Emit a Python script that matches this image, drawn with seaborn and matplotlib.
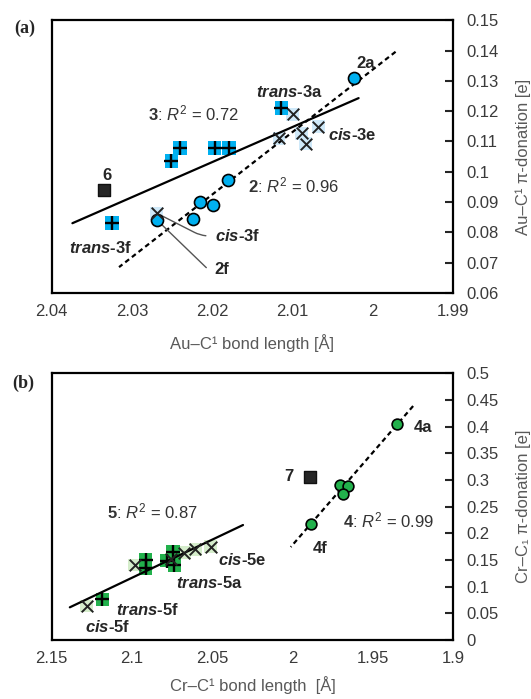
import numpy as np
import seaborn as sns
from matplotlib import pyplot as plt
from matplotlib.ticker import FuncFormatter

sns.set_style("white")
plt.rcParams['font.family'] = ['Liberation Sans', 'DejaVu Sans']
plt.rcParams['mathtext.fontset'] = 'custom'
plt.rcParams['mathtext.rm'] = 'Liberation Sans'
plt.rcParams['mathtext.it'] = 'Liberation Sans:italic'
plt.rcParams['mathtext.bf'] = 'Liberation Sans:bold'
plt.rcParams['mathtext.bfit'] = 'Liberation Sans:bold:italic'

# (a) Au complexes ---------------------------------------------------------
au_circ_x = [2.0024, 2.0181, 2.0215, 2.0199, 2.0224, 2.0269]
au_circ_y = [0.131, 0.0973, 0.0901, 0.0890, 0.0843, 0.0841]
au_plus_x = [2.0114, 2.0240, 2.0251, 2.0197, 2.0179, 2.0325]
au_plus_y = [0.1210, 0.1078, 0.1035, 0.1078, 0.1078, 0.0830]
au_cross_x = [2.0100, 2.0117, 2.0089, 2.0084, 2.0068, 2.0269]
au_cross_y = [0.1190, 0.1111, 0.1127, 0.1092, 0.1149, 0.0863]
au_sq_x = [2.0335]
au_sq_y = [0.094]
au_fit2_x = [2.0316, 1.9972]
au_fit2_y = [0.0685, 0.1396]
au_fit3_x = [2.0374, 2.0018]
au_fit3_y = [0.0830, 0.1243]
au_xticks = [2.04, 2.03, 2.02, 2.01, 2.00, 1.99]
au_yticks = [0.06, 0.07, 0.08, 0.09, 0.10, 0.11, 0.12, 0.13, 0.14, 0.15]

# (b) Cr complexes ---------------------------------------------------------
cr_circ_x = [1.9354, 1.9704, 1.9657, 1.9688, 1.9884]
cr_circ_y = [0.405, 0.2906, 0.2887, 0.2731, 0.2169]
cr_plus_x = [2.1183, 2.0915, 2.0915, 2.0746, 2.0736, 2.0783]
cr_plus_y = [0.0763, 0.150, 0.1344, 0.1655, 0.1406, 0.1487]
cr_cross_x = [2.1282, 2.0983, 2.0756, 2.0674, 2.0606, 2.0509]
cr_cross_y = [0.0637, 0.1406, 0.1513, 0.1637, 0.170, 0.175]
cr_sq_x = [1.989]
cr_sq_y = [0.305]
cr_fit4_x = [2.0012, 1.9251]
cr_fit4_y = [0.1744, 0.4387]
cr_fit5_x = [2.1386, 2.0309]
cr_fit5_y = [0.0613, 0.2156]
cr_xticks = [2.15, 2.10, 2.05, 2.00, 1.95, 1.90]
cr_yticks = [0, 0.05, 0.1, 0.15, 0.2, 0.25, 0.3, 0.35, 0.4, 0.45, 0.5]

blue = '#00B0F0'
blue_bg = '#CFE9F9'
green = '#22B14C'
green_bg = '#D5EDCB'
fs = 12
dashed = (0, (2.2, 1.6))

fig = plt.figure(figsize=(5.31, 6.99), dpi=100)
ax1 = fig.add_axes([0.097, 0.581, 0.757, 0.390])
ax2 = fig.add_axes([0.097, 0.0844, 0.757, 0.3815])


def style_axis(ax, xt, yt, xlim, ylim):
    ax.set_xlim(*xlim)
    ax.set_ylim(*ylim)
    ax.set_xticks(xt)
    ax.set_yticks(yt)
    fmt = FuncFormatter(lambda v, p: '{:g}'.format(round(v, 3)))
    ax.xaxis.set_major_formatter(fmt)
    ax.yaxis.set_major_formatter(fmt)
    ax.yaxis.tick_right()
    ax.yaxis.set_label_position('right')
    ax.tick_params(axis='both', direction='in', length=6, width=1.5,
                   labelsize=fs, labelcolor='#3a3a3a')
    ax.tick_params(axis='y', pad=9)
    ax.tick_params(axis='x', pad=8)
    for s in ax.spines.values():
        s.set_linewidth(1.6)
        s.set_color('black')


def draw_set(ax, cx, cy, px, py, xx, xy, sx, sy, col, bg, csize):
    sns.scatterplot(x=xx, y=xy, marker='s', s=85, color=bg, edgecolor='none', ax=ax, zorder=2)
    sns.scatterplot(x=px, y=py, marker='s', s=95, color=col, edgecolor='none', ax=ax, zorder=2)
    sns.scatterplot(x=px, y=py, marker='+', s=100, color='black', linewidth=1.7, ax=ax, zorder=5)
    sns.scatterplot(x=xx, y=xy, marker='x', s=70, color='#222222', linewidth=1.4, ax=ax, zorder=5)
    sns.scatterplot(x=cx, y=cy, marker='o', s=csize, color=col, edgecolor='black', linewidth=1.2, ax=ax, zorder=4)
    sns.scatterplot(x=sx, y=sy, marker='s', s=85, color='#262626', edgecolor='#111111', linewidth=1, ax=ax, zorder=4)


# panel (a)
style_axis(ax1, au_xticks, au_yticks, (2.04, 1.99), (0.06, 0.15))
sns.lineplot(x=au_fit2_x, y=au_fit2_y, ax=ax1, color='black', linestyle=dashed, lw=1.6, zorder=3)
sns.lineplot(x=au_fit3_x, y=au_fit3_y, ax=ax1, color='black', lw=1.6, zorder=3)
draw_set(ax1, au_circ_x, au_circ_y, au_plus_x, au_plus_y, au_cross_x, au_cross_y,
         au_sq_x, au_sq_y, blue, blue_bg, 75)

ax1.text(2.0009, 0.1356, '2a', fontsize=fs, fontweight='bold', ha='center', va='center')
ax1.text(2.0104, 0.1264, r'$\mathbfit{trans}$-3a', fontsize=fs, fontweight='bold', ha='center', va='center')
ax1.text(2.0026, 0.1121, r'$\mathbfit{cis}$-3e', fontsize=fs, fontweight='bold', ha='center', va='center')
ax1.text(2.0223, 0.1193, r'$\mathbf{3}$: $R^2$ = 0.72', fontsize=fs, color='#333333', ha='center', va='center')
ax1.text(2.0331, 0.0989, '6', fontsize=fs, fontweight='bold', ha='center', va='center')
ax1.text(2.0099, 0.0956, r'$\mathbf{2}$: $R^2$ = 0.96', fontsize=fs, color='#333333', ha='center', va='center')
ax1.text(2.0339, 0.0748, r'$\mathbfit{trans}$-3f', fontsize=fs, fontweight='bold', ha='center', va='center')
ax1.annotate(r'$\mathbfit{cis}$-3f', xy=(au_cross_x[5], au_cross_y[5]), xytext=(2.0197, 0.0788),
             fontsize=fs, fontweight='bold', ha='left', va='center',
             arrowprops=dict(arrowstyle='-', color='#555555', lw=1, relpos=(0, 0.5),
                             shrinkA=4, shrinkB=3,
                             connectionstyle='angle,angleA=0,angleB=-27,rad=8'))
ax1.annotate('2f', xy=(au_circ_x[5], au_circ_y[5]), xytext=(2.0197, 0.0676),
             fontsize=fs, fontweight='bold', ha='left', va='center',
             arrowprops=dict(arrowstyle='-', color='#555555', lw=1, relpos=(0, 0.5),
                             shrinkA=4, shrinkB=3,
                             connectionstyle='angle,angleA=0,angleB=-44,rad=4'))
ax1.set_xlabel('Au–C¹ bond length [Å]', fontsize=fs, color='#595959')
ax1.set_ylabel('Au–C¹ π-donation [e]', fontsize=fs, color='#595959')
ax1.xaxis.set_label_coords(0.5, -0.15)
ax1.yaxis.set_label_coords(1.155, 0.5)

# panel (b)
style_axis(ax2, cr_xticks, cr_yticks, (2.15, 1.90), (0, 0.5))
sns.lineplot(x=cr_fit4_x, y=cr_fit4_y, ax=ax2, color='black', linestyle=dashed, lw=1.6, zorder=3)
sns.lineplot(x=cr_fit5_x, y=cr_fit5_y, ax=ax2, color='black', lw=1.6, zorder=3)
draw_set(ax2, cr_circ_x, cr_circ_y, cr_plus_x, cr_plus_y, cr_cross_x, cr_cross_y,
         cr_sq_x, cr_sq_y, green, green_bg, 60)

ax2.text(1.9189, 0.3988, '4a', fontsize=fs, fontweight='bold', ha='center', va='center')
ax2.text(1.9828, 0.172, '4f', fontsize=fs, fontweight='bold', ha='center', va='center')
ax2.text(2.0024, 0.306, '7', fontsize=fs, fontweight='bold', ha='center', va='center')
ax2.text(1.9405, 0.225, r'$\mathbf{4}$: $R^2$ = 0.99', fontsize=fs, color='#333333', ha='center', va='center')
ax2.text(2.087, 0.2405, r'$\mathbf{5}$: $R^2$ = 0.87', fontsize=fs, color='#333333', ha='center', va='center')
ax2.text(2.0313, 0.150, r'$\mathbfit{cis}$-5e', fontsize=fs, fontweight='bold', ha='center', va='center')
ax2.text(2.0519, 0.1063, r'$\mathbfit{trans}$-5a', fontsize=fs, fontweight='bold', ha='center', va='center')
ax2.text(2.0901, 0.0562, r'$\mathbfit{trans}$-5f', fontsize=fs, fontweight='bold', ha='center', va='center')
ax2.text(2.1149, 0.0238, r'$\mathbfit{cis}$-5f', fontsize=fs, fontweight='bold', ha='center', va='center')
ax2.set_xlabel('Cr–C¹ bond length  [Å]', fontsize=fs, color='#595959')
ax2.set_ylabel('Cr–C₁ π-donation [e]', fontsize=fs, color='#595959')
ax2.xaxis.set_label_coords(0.5, -0.135)
ax2.yaxis.set_label_coords(1.155, 0.5)

fig.text(0.047, 0.96, '(a)', fontsize=13, fontweight='bold', family='Liberation Serif', ha='center', va='center')
fig.text(0.043, 0.451, '(b)', fontsize=13, fontweight='bold', family='Liberation Serif', ha='center', va='center')

fig.savefig('out.png', dpi=100)
